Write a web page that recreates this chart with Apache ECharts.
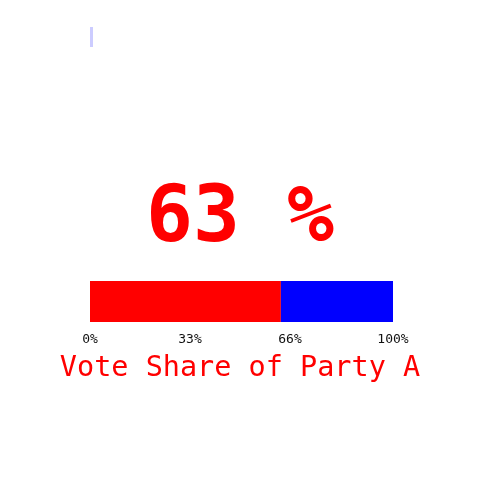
<!DOCTYPE html>
<html>
<head>
<meta charset="utf-8" />
<script src="https://cdn.jsdelivr.net/npm/echarts@6/dist/echarts.min.js"></script>
<style>html,body{margin:0;padding:0;background:#fff;}</style>
</head>
<body>
<div id="main" style="width:480px;height:480px"></div>
<script>
var partyA = [63];
var partyB = [37];
var tickValues = [0, 33, 66, 100];
var chartTitle = 'Vote Share of Party A';

var myChart = echarts.init(document.getElementById('main'));
var mono = 'DejaVu Sans Mono';
var option = {
  animation: false,
  title: [
    { text: partyA[0] + ' %', left: 'center', top: 177,
      textStyle: { fontFamily: mono, fontSize: 78, fontWeight: 'bold', color: '#ff0000' } },
    { text: chartTitle, left: 'center', top: 349,
      textStyle: { fontFamily: mono, fontSize: 28.5, fontWeight: 'normal', color: '#ff0000' } }
  ],
  graphic: [
    { type: 'rect', shape: { x: 90, y: 27, width: 3, height: 20 }, style: { fill: '#ccccff' } }
  ],
  grid: { left: 90, right: 87, top: 281, height: 41 },
  xAxis: {
    type: 'value', min: 0, max: 100,
    splitLine: { show: false }, axisLine: { show: false }, axisTick: { show: false },
    axisLabel: { customValues: tickValues, formatter: '{value}%', margin: 11,
      fontFamily: mono, fontSize: 13, color: '#111' }
  },
  yAxis: { type: 'category', data: ['A'], show: false },
  series: [
    { type: 'bar', stack: 's', data: partyA, barWidth: 41, itemStyle: { color: '#ff0000' } },
    { type: 'bar', stack: 's', data: partyB, barWidth: 41, itemStyle: { color: '#0000ff' } }
  ]
};
myChart.setOption(option);
</script>
</body>
</html>
